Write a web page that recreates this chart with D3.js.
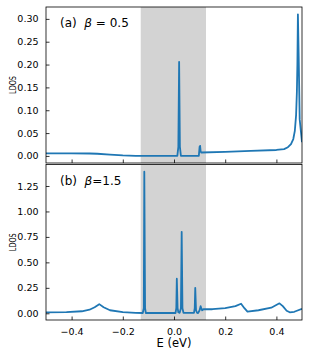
<!DOCTYPE html>
<html>
<head>
<meta charset="utf-8">
<script src="https://cdn.jsdelivr.net/npm/d3@7"></script>
<style>
  body { margin: 0; background: #fff; }
  svg text { font-family: "DejaVu Sans", sans-serif; fill: #000; }
</style>
</head>
<body>
<svg id="chart" width="312" height="356"></svg>
<script>
// panel (a) beta = 0.5
const energyA = [-0.5, -0.4, -0.33, -0.3, -0.25, -0.2, -0.15, -0.13, 0.013, 0.017, 0.02, 0.023, 0.027,
  0.097, 0.1, 0.102, 0.104, 0.106, 0.2, 0.3, 0.4, 0.43, 0.445, 0.457, 0.466, 0.472, 0.477, 0.48, 0.482, 0.484, 0.487, 0.491, 0.5];
const ldosA = [0.0055, 0.0055, 0.0053, 0.0048, 0.003, 0.001, 0.0002, 0.0, 0.0, 0.02, 0.206, 0.02, 0.0,
  0.0, 0.02, 0.022, 0.01, 0.0075, 0.009, 0.011, 0.013, 0.015, 0.019, 0.026, 0.037, 0.055, 0.09, 0.14, 0.2, 0.31, 0.22, 0.08, 0.03];

// panel (b) beta = 1.5
const energyB = [-0.5, -0.42, -0.36, -0.33, -0.31, -0.292, -0.275, -0.25, -0.2, -0.15, -0.122, -0.118, -0.116, -0.113, -0.11,
  0.006, 0.009, 0.011, 0.014, 0.017, 0.022, 0.027, 0.03, 0.033, 0.037, 0.078, 0.081, 0.083, 0.086, 0.09, 0.094,
  0.1, 0.104, 0.107, 0.11, 0.115, 0.15, 0.2, 0.24, 0.262, 0.275, 0.287, 0.33, 0.38, 0.412, 0.425, 0.44, 0.452, 0.47, 0.5];
const ldosB = [0.01, 0.012, 0.02, 0.035, 0.06, 0.09, 0.06, 0.03, 0.012, 0.005, 0.003, 0.05, 1.39, 0.05, 0.003,
  0.003, 0.05, 0.34, 0.05, 0.01, 0.005, 0.05, 0.80, 0.05, 0.005, 0.005, 0.05, 0.25, 0.03, 0.005, 0.002,
  0.03, 0.07, 0.045, 0.03, 0.04, 0.04, 0.05, 0.07, 0.094, 0.05, 0.016, 0.03, 0.055, 0.098, 0.07, 0.025, 0.01, 0.015, 0.045];

const gapBand = [-0.13, 0.125];
const xTicks = [-0.4, -0.2, 0.0, 0.2, 0.4];
const yTicksA = [0.0, 0.05, 0.1, 0.15, 0.2, 0.25, 0.3];
const yTicksB = [0.0, 0.25, 0.5, 0.75, 1.0, 1.25];

const svg = d3.select("#chart");
const left = 46, right = 302;

const xscale = d3.scaleLinear().domain([-0.5, 0.5]).range([left, right]);

const panels = [
  { id: "a", e: energyA, v: ldosA, top: 7, bottom: 163, ydom: [-0.0155, 0.326], ticks: yTicksA,
    label: ["(a)", "\u03b2", " = 0.5"], xlabels: false },
  { id: "b", e: energyB, v: ldosB, top: 164.5, bottom: 320, ydom: [-0.0658, 1.461], ticks: yTicksB,
    label: ["(b)", "\u03b2", "=1.5"], xlabels: true }
];

panels.forEach(p => {
  const yscale = d3.scaleLinear().domain(p.ydom).range([p.bottom, p.top]);
  const g = svg.append("g");

  g.append("clipPath").attr("id", "clip-" + p.id)
    .append("rect").attr("x", left).attr("y", p.top)
    .attr("width", right - left).attr("height", p.bottom - p.top);

  // gap shading
  g.append("rect")
    .attr("x", xscale(gapBand[0])).attr("y", p.top)
    .attr("width", xscale(gapBand[1]) - xscale(gapBand[0]))
    .attr("height", p.bottom - p.top)
    .attr("fill", "#d3d3d3");

  const pts = p.e.map((e, i) => [e, p.v[i]]);
  const line = d3.line().x(d => xscale(d[0])).y(d => yscale(d[1]));
  g.append("path")
    .datum(pts)
    .attr("clip-path", "url(#clip-" + p.id + ")")
    .attr("d", line)
    .attr("fill", "none")
    .attr("stroke", "#1f77b4")
    .attr("stroke-width", 1.8)
    .attr("stroke-linejoin", "round");

  // axes, ticks pointing in
  const yaxis = d3.axisLeft(yscale).tickValues(p.ticks).tickFormat(d3.format(".2f"))
    .tickSizeInner(-3.5).tickSizeOuter(0).tickPadding(7.5);
  const ya = g.append("g").attr("transform", `translate(${left},0)`).call(yaxis);
  ya.select(".domain").remove();
  ya.selectAll("text").attr("font-size", 9.5).attr("font-family", "DejaVu Sans");

  const xaxis = d3.axisBottom(xscale).tickValues(xTicks).tickFormat(d => d3.format(".1f")(d).replace("-", "\u2212"))
    .tickSizeInner(-3.5).tickSizeOuter(0).tickPadding(8);
  const xa = g.append("g").attr("transform", `translate(0,${p.bottom})`).call(xaxis);
  xa.select(".domain").remove();
  xa.selectAll("text").attr("font-size", 9.5).attr("font-family", "DejaVu Sans");
  if (!p.xlabels) xa.selectAll("text").remove();
  g.selectAll(".tick line").attr("stroke", "#000").attr("stroke-width", 0.8);

  // frame
  g.append("rect")
    .attr("x", left).attr("y", p.top)
    .attr("width", right - left).attr("height", p.bottom - p.top)
    .attr("fill", "none").attr("stroke", "#000").attr("stroke-width", 0.8);

  // panel label
  const t = g.append("text").attr("x", 60).attr("y", p.top + 20).attr("font-size", 12);
  t.append("tspan").text(p.label[0] + "\u00a0\u00a0");
  t.append("tspan").attr("font-style", "italic").text(p.label[1]);
  t.append("tspan").text(p.label[2]);

  // y label
  g.append("text")
    .attr("transform", `translate(16,${(p.top + p.bottom) / 2}) rotate(-90)`)
    .attr("text-anchor", "middle")
    .attr("font-size", 8.5)
    .attr("textLength", 18).attr("lengthAdjust", "spacingAndGlyphs")
    .text("LDOS");
});

svg.append("text")
  .attr("x", (left + right) / 2).attr("y", 347)
  .attr("text-anchor", "middle")
  .attr("font-size", 11.5)
  .text("E (eV)");
</script>
</body>
</html>
